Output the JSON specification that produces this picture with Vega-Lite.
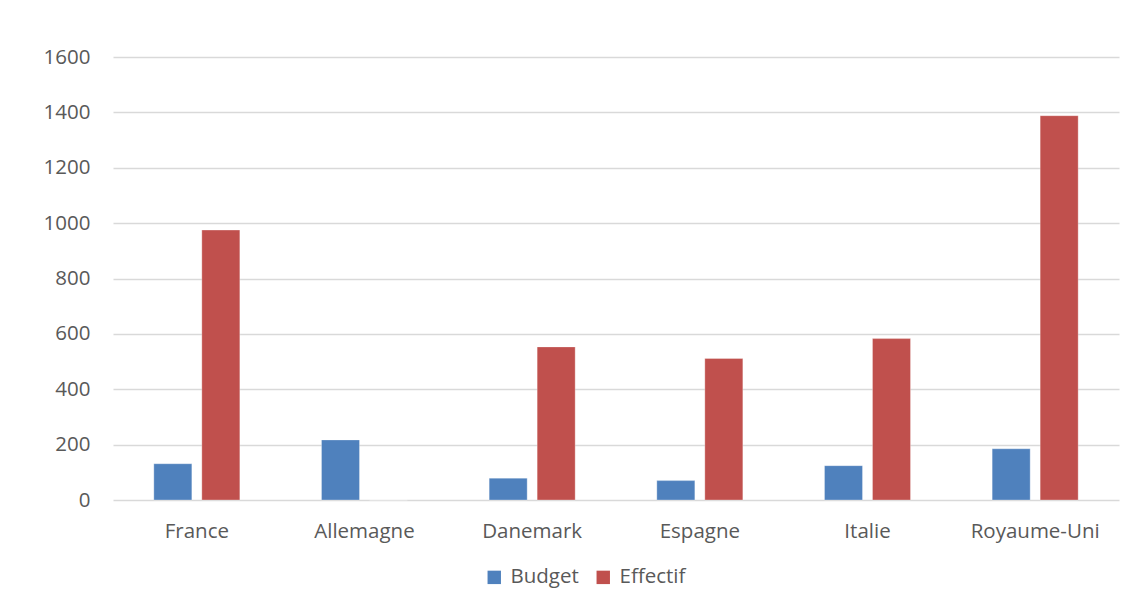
{
  "$schema": "https://vega.github.io/schema/vega-lite/v6.json",
  "width": 1006,
  "height": 443,
  "autosize": {"type": "none"},
  "padding": {"left": 113, "top": 57, "right": 22, "bottom": 108},
  "background": "white",
  "config": {
    "view": {"stroke": null},
    "font": "Open Sans",
    "axis": {"labelFont": "Open Sans", "labelFontSize": 20.5, "labelColor": "#595959", "titleColor": "#595959"},
    "legend": {"labelFont": "Open Sans", "labelFontSize": 20.5, "labelColor": "#595959"}
  },
  "data": {
    "values": [
      {"pays": "France", "serie": "Budget", "valeur": 131},
      {"pays": "France", "serie": "Effectif", "valeur": 975},
      {"pays": "Allemagne", "serie": "Budget", "valeur": 217},
      {"pays": "Allemagne", "serie": "Effectif", "valeur": 0},
      {"pays": "Danemark", "serie": "Budget", "valeur": 79},
      {"pays": "Danemark", "serie": "Effectif", "valeur": 553},
      {"pays": "Espagne", "serie": "Budget", "valeur": 70},
      {"pays": "Espagne", "serie": "Effectif", "valeur": 511},
      {"pays": "Italie", "serie": "Budget", "valeur": 124},
      {"pays": "Italie", "serie": "Effectif", "valeur": 583},
      {"pays": "Royaume-Uni", "serie": "Budget", "valeur": 185},
      {"pays": "Royaume-Uni", "serie": "Effectif", "valeur": 1388}
    ]
  },
  "mark": {"type": "bar", "stroke": "white", "strokeOpacity": 0.3, "strokeWidth": 1},
  "encoding": {
    "x": {
      "field": "pays",
      "type": "nominal",
      "sort": null,
      "scale": {"paddingInner": 0.487, "paddingOuter": 0.2435},
      "axis": {"title": null, "labelAngle": 0, "ticks": false, "domain": false, "labelPadding": 21, "grid": false}
    },
    "xOffset": {
      "field": "serie",
      "type": "nominal",
      "sort": ["Budget", "Effectif"],
      "scale": {"paddingInner": 0.208, "paddingOuter": 0}
    },
    "y": {
      "field": "valeur",
      "type": "quantitative",
      "scale": {"domain": [0, 1600], "nice": false},
      "axis": {"title": null, "format": "d", "values": [0, 200, 400, 600, 800, 1000, 1200, 1400, 1600], "ticks": false, "domain": false, "labelPadding": 23, "gridColor": "#D9D9D9", "gridWidth": 1.3}
    },
    "color": {
      "field": "serie",
      "type": "nominal",
      "sort": ["Budget", "Effectif"],
      "scale": {"domain": ["Budget", "Effectif"], "range": ["#4F81BD", "#C0504D"]},
      "legend": {
        "title": null,
        "orient": "none",
        "direction": "horizontal",
        "legendX": 371,
        "legendY": 510,
        "symbolType": "square",
        "symbolSize": 180,
        "symbolStrokeWidth": 0,
        "labelOffset": 6,
        "columnPadding": 14,
        "padding": 0
      }
    }
  }
}
